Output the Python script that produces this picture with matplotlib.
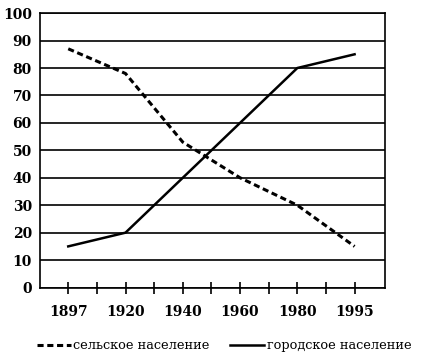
import matplotlib
matplotlib.use("Agg")
import matplotlib.pyplot as plt
import numpy as np

years = ["1897", "1920", "1940", "1960", "1980", "1995"]
rural = [87, 78, 53, 40, 30, 15]
urban = [15, 20, 40, 60, 80, 85]

fig = plt.figure(figsize=(4.23, 3.55), dpi=100)
ax = fig.add_axes([0.095, 0.19, 0.815, 0.773])

x = np.arange(len(years))
ax.plot(x, rural, color="black", lw=2.2, linestyle=(0, (2.0, 1.2)),
        label="сельское население")
ax.plot(x, urban, color="black", lw=1.8, label="городское население")

ax.set_xlim(-0.49, 5.53)
ax.set_ylim(0, 100)
ax.set_yticks(range(0, 101, 10))
ax.yaxis.grid(True, color="black", lw=1.2)
ax.set_axisbelow(True)
ax.tick_params(axis="y", length=0, pad=6)

ax.set_xticks(x)
ax.set_xticklabels(years)
ax.set_xticks(x[:-1] + 0.5, minor=True)
ax.tick_params(axis="x", which="both", direction="inout", length=9, width=1.2, pad=8)

for lab in ax.get_xticklabels() + ax.get_yticklabels():
    lab.set_fontfamily("DejaVu Serif")
    lab.set_fontweight("bold")
    lab.set_fontsize(10)

for s in ax.spines.values():
    s.set_linewidth(1.2)

fig.legend(loc="lower center", bbox_to_anchor=(0.53, -0.025), ncol=2, frameon=False,
           prop={"family": "DejaVu Serif", "size": 9.3}, handlelength=2.6,
           handletextpad=0.2, columnspacing=1.6)

fig.savefig("out.png", dpi=100)
